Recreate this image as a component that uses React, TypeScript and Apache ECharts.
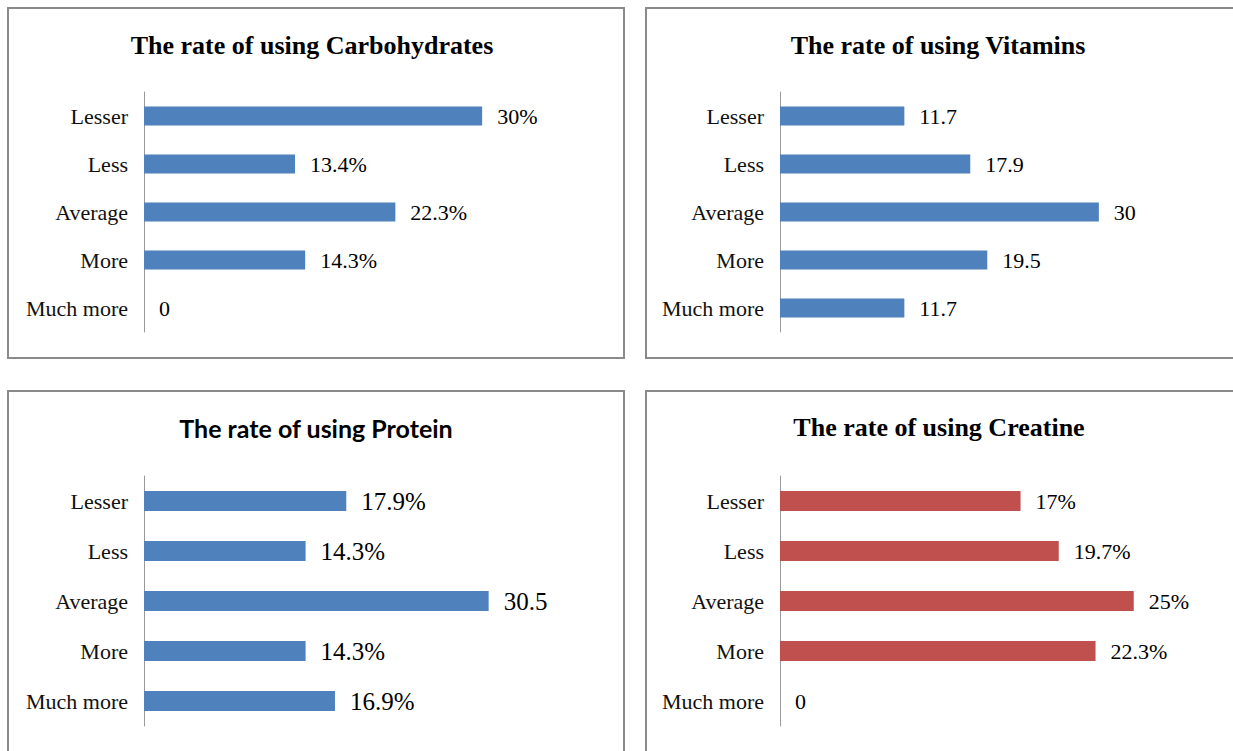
import React, { useEffect, useRef } from "react";
import * as echarts from "echarts";

// Response categories shared by all four panels (top to bottom)
const categories = ["Lesser", "Less", "Average", "More", "Much more"];

const carbohydrateValues = [30, 13.4, 22.3, 14.3, 0];
const carbohydrateLabels = ["30%", "13.4%", "22.3%", "14.3%", "0"];

const vitaminValues = [11.7, 17.9, 30, 19.5, 11.7];
const vitaminLabels = ["11.7", "17.9", "30", "19.5", "11.7"];

const proteinValues = [17.9, 14.3, 30.5, 14.3, 16.9];
const proteinLabels = ["17.9%", "14.3%", "30.5", "14.3%", "16.9%"];

const creatineValues = [17, 19.7, 25, 22.3, 0];
const creatineLabels = ["17%", "19.7%", "25%", "22.3%", "0"];

const titles = [
  "The rate of using Carbohydrates",
  "The rate of using Vitamins",
  "The rate of using Protein",
  "The rate of using Creatine",
];

const SERIF = "'Liberation Serif', 'Times New Roman', serif";
const SANS = "Lato, 'Noto Sans', sans-serif";
const BLUE = "#4F81BD";
const RED = "#C0504D";
const BORDER = "#8a8a8a";

type Panel = {
  values: number[];
  labels: string[];
  color: string;
  max: number;
  grid: { left: number; top: number; width: number; height: number };
  barWidth: number;
  labelSize: number;
  title: { text: string; x: number; y: number; font: string; size: number };
  box: { x: number; y: number; width: number; height: number };
};

const panels: Panel[] = [
  {
    values: carbohydrateValues,
    labels: carbohydrateLabels,
    color: BLUE,
    max: 35,
    grid: { left: 144, top: 92, width: 394.5, height: 240 },
    barWidth: 19,
    labelSize: 22,
    title: { text: titles[0], x: 312, y: 45, font: SERIF, size: 26 },
    box: { x: 8, y: 8, width: 616, height: 350 },
  },
  {
    values: vitaminValues,
    labels: vitaminLabels,
    color: BLUE,
    max: 35,
    grid: { left: 780, top: 92, width: 372, height: 240 },
    barWidth: 19,
    labelSize: 22,
    title: { text: titles[1], x: 938, y: 45, font: SERIF, size: 26 },
    box: { x: 646, y: 8, width: 640, height: 350 },
  },
  {
    values: proteinValues,
    labels: proteinLabels,
    color: BLUE,
    max: 35,
    grid: { left: 144, top: 476, width: 395.5, height: 250 },
    barWidth: 20,
    labelSize: 25,
    title: { text: titles[2], x: 316, y: 428, font: SANS, size: 25 },
    box: { x: 8, y: 391, width: 616, height: 420 },
  },
  {
    values: creatineValues,
    labels: creatineLabels,
    color: RED,
    max: 30,
    grid: { left: 780, top: 476, width: 424.5, height: 250 },
    barWidth: 20,
    labelSize: 22,
    title: { text: titles[3], x: 939, y: 427, font: SERIF, size: 26 },
    box: { x: 646, y: 391, width: 640, height: 420 },
  },
];

export default function App() {
  const ref = useRef<HTMLDivElement>(null);

  useEffect(() => {
    if (!ref.current) return;
    const chart = echarts.init(ref.current, undefined, { renderer: "svg" });

    const option = {
      animation: false,
      backgroundColor: "#ffffff",
      grid: panels.map((p) => ({ ...p.grid, containLabel: false })),
      xAxis: panels.map((p, i) => ({
        type: "value",
        gridIndex: i,
        min: 0,
        max: p.max,
        show: false,
        splitLine: { show: false },
      })),
      yAxis: panels.map((p, i) => ({
        type: "category",
        gridIndex: i,
        data: categories,
        inverse: true,
        axisLine: { show: true, lineStyle: { color: "#9a9a9a", width: 1 } },
        axisTick: { show: false },
        axisLabel: {
          margin: 16,
          color: "#111",
          fontFamily: SERIF,
          fontSize: 22,
        },
        splitLine: { show: false },
      })),
      series: panels.map((p, i) => ({
        type: "bar",
        xAxisIndex: i,
        yAxisIndex: i,
        data: p.values,
        barWidth: p.barWidth,
        itemStyle: { color: p.color },
        label: {
          show: true,
          position: "right",
          distance: 15,
          color: "#000",
          fontFamily: SERIF,
          fontSize: p.labelSize,
          formatter: (params: any) => p.labels[params.dataIndex],
        },
      })),
      graphic: [
        ...panels.map((p) => ({
          type: "rect",
          shape: { ...p.box },
          style: { fill: "none", stroke: BORDER, lineWidth: 2 },
          silent: true,
        })),
        ...panels.map((p) => ({
          type: "text",
          x: p.title.x,
          y: p.title.y,
          style: {
            text: p.title.text,
            fontFamily: p.title.font,
            fontSize: p.title.size,
            fontWeight: "bold",
            fill: "#000",
            align: "center",
            verticalAlign: "middle",
          },
          silent: true,
        })),
      ],
    };

    chart.setOption(option as any);
    return () => chart.dispose();
  }, []);

  return (
    <div
      ref={ref}
      style={{ position: "absolute", left: 0, top: 0, width: 1233, height: 751 }}
    />
  );
}
